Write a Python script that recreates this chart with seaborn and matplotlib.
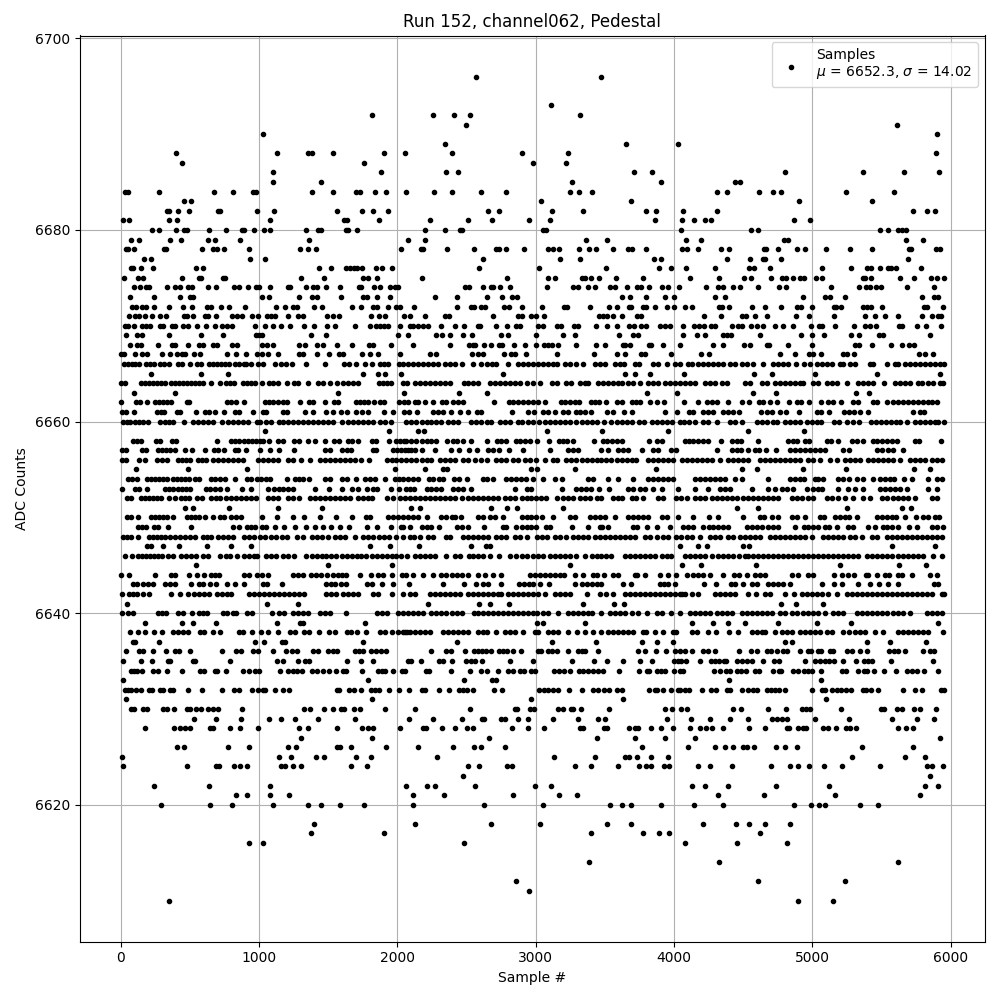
import matplotlib
matplotlib.use("Agg")
import matplotlib.pyplot as plt
import pandas as pd
import seaborn as sns

title = "Run 152, channel062, Pedestal"
x_label = "Sample #"
y_label = "ADC Counts"
legend_label = "Samples\n$\\mu$ = 6652.3, $\\sigma$ = 14.02"

# Sample numbers, one list per ADC count level.
adc_6696 = [2569, 3473]
adc_6693 = [3111]
adc_6692 = [1817, 2258, 2410, 2525, 3321]
adc_6691 = [2497, 5613]
adc_6690 = [1029, 5902]
adc_6689 = [2345, 3653, 4029]
adc_6688 = [400, 1130, 1354, 1383, 1535, 1904, 2056, 2395, 2901, 3234, 5895]
adc_6687 = [443, 1759, 2981, 3220]
adc_6686 = [1101, 1882, 2352, 2439, 3711, 3841, 4804, 5367, 5664, 5917]
adc_6685 = [1101, 1448, 3263, 3906, 4442, 4478]
adc_6684 = [29, 53, 277, 675, 812, 957, 974, 1383, 1535, 1701, 1730, 1839, 1918, 2063, 2265, 2395, 2605, 2786, 3248, 3313, 3408, 4312, 4384, 4616, 4717, 4775, 5245, 5592]
adc_6683 = [458, 508, 3039, 3690, 4905, 5433]
adc_6682 = [335, 350, 414, 494, 704, 720, 986, 1109, 1564, 1745, 1824, 1933, 2656, 2735, 3118, 3342, 3798, 3870, 4066, 4312, 5729, 5830, 5888]
adc_6681 = [17, 60, 350, 407, 1080, 1615, 1636, 1868, 2236, 2511, 2685, 2952, 3104, 3863, 4059, 4146, 4225, 4269, 4869, 4984]
adc_6680 = [227, 277, 400, 458, 480, 639, 762, 877, 892, 964, 1036, 1080, 1340, 1427, 1448, 1629, 1644, 1708, 2200, 2345, 2453, 2468, 3053, 3075, 4051, 4558, 4608, 5490, 5548, 5621, 5650, 5678]
adc_6679 = [75, 133, 357, 436, 631, 682, 863, 1362, 2077, 2200, 3364, 3516, 4088, 4196, 4796, 4825, 5678, 5801]
adc_6678 = [38, 53, 96, 313, 328, 588, 668, 696, 747, 928, 1297, 1354, 1412, 2027, 2171, 2186, 2359, 2554, 2713, 2735, 2786, 2916, 3089, 3126, 3169, 3313, 3386, 3436, 3559, 3668, 3697, 3798, 4059, 4095, 4175, 4341, 4399, 4652, 4666, 4753, 4890, 4948, 5100, 5274, 5433, 5700, 5710, 5895, 5924]
adc_6677 = [169, 219, 935, 1044, 2620, 3176, 3321, 3856, 3906, 4384, 4550, 4645, 4659, 4775, 5693]
adc_6676 = [75, 89, 147, 234, 545, 595, 1434, 1521, 1629, 1660, 1687, 1709, 1745, 1846, 1889, 1962, 2591, 3024, 3509, 3892, 3979, 4088, 4297, 4543, 4579, 4695, 5071, 5281, 5396, 5425, 5490, 5548, 5565, 5606, 5787]
adc_6675 = [24, 125, 161, 443, 566, 581, 740, 754, 1304, 1470, 1752, 1788, 1853, 2178, 2793, 3089, 3140, 3335, 3357, 3400, 3458, 3581, 3776, 4117, 4326, 4507, 4558, 4702, 4782, 4811, 4861, 4912, 4941, 5028, 5071, 5367, 5382, 5425, 5635, 5736, 5859, 5902, 5950]
adc_6674 = [96, 140, 183, 205, 335, 393, 429, 487, 516, 631, 689, 819, 855, 921, 978, 1000, 1080, 1210, 1224, 1340, 1390, 1419, 1485, 1586, 1723, 1738, 1832, 1875, 1947, 1983, 2005, 2489, 2518, 2620, 2677, 2692, 2742, 2815, 3082, 3270, 3306, 3379, 3429, 3538, 3574, 3661, 3733, 3762, 3820, 3914, 3957, 4036, 4232, 4319, 4355, 4428, 4478, 4608, 4760, 4811, 5136, 5339, 5389, 5418, 5461, 5498, 5686, 5881]
adc_6673 = [67, 241, 429, 501, 523, 1022, 1072, 1289, 1383, 1419, 1593, 1752, 1781, 1853, 1947, 2272, 2431, 2648, 2757, 2829, 2865, 3624, 3682, 3798, 3935, 4000, 4297, 4370, 4934, 5093, 5129, 5237, 5794, 5881, 5910]
adc_6672 = [82, 111, 154, 183, 241, 350, 451, 516, 624, 653, 725, 783, 899, 1123, 1188, 1246, 1275, 1398, 1456, 1673, 1738, 1824, 1853, 1933, 1990, 2019, 2121, 2431, 2533, 2554, 2605, 2634, 2771, 2808, 2901, 3046, 3205, 3227, 3393, 3530, 3588, 3675, 3690, 3776, 3798, 3863, 3950, 4000, 4081, 4131, 4326, 4348, 4399, 4565, 4659, 4775, 4890, 4919, 4999, 5158, 5172, 5208, 5367, 5396, 5425, 5505, 5809, 5830, 5946]
adc_6671 = [60, 103, 133, 176, 226, 284, 328, 458, 480, 523, 610, 631, 689, 805, 841, 877, 949, 992, 1058, 1087, 1116, 1210, 1282, 1318, 1492, 1535, 1579, 1810, 1868, 1911, 2048, 2092, 2200, 2345, 2374, 2692, 2873, 2901, 2967, 3003, 3060, 3458, 3487, 3516, 3559, 3624, 3733, 3762, 4218, 4341, 4493, 4522, 4587, 4673, 4883, 4977, 5158, 5382, 5454, 5526, 5621, 5794, 5866, 5910, 5931]
adc_6670 = [29, 53, 94, 154, 183, 212, 284, 306, 371, 393, 451, 487, 552, 617, 682, 733, 769, 805, 971, 1044, 1101, 1159, 1224, 1325, 1398, 1492, 1550, 1694, 1803, 1846, 1875, 1904, 1933, 2019, 2092, 2113, 2150, 2186, 2222, 2316, 2417, 2482, 2583, 2598, 2713, 2793, 2858, 2887, 3017, 3053, 3155, 3183, 3277, 3306, 3436, 3516, 3588, 3675, 3711, 3762, 3798, 3899, 3935, 3971, 4066, 4146, 4182, 4218, 4269, 4297, 4420, 4464, 4493, 4558, 4601, 4645, 4731, 4789, 4861, 4992, 5049, 5071, 5165, 5302, 5382, 5418, 5461, 5628, 5650, 5758, 5823, 5931]
adc_6669 = [39, 118, 154, 350, 581, 740, 978, 1000, 1022, 1376, 1485, 2005, 2077, 2282, 2323, 2379, 2475, 2540, 2750, 2800, 3003, 3198, 3285, 3603, 3704, 3740, 4066, 4167, 4225, 4355, 4384, 4413, 4623, 4919, 4999, 5085, 5281, 5339, 5483, 5512, 5852]
adc_6668 = [67, 118, 147, 270, 371, 393, 484, 566, 595, 668, 696, 805, 841, 1022, 1058, 1101, 1289, 1333, 1419, 1463, 1562, 1673, 1795, 1824, 1954, 2113, 2381, 2518, 2547, 2562, 2627, 2677, 2735, 2757, 2844, 2923, 3003, 3060, 3089, 3118, 3162, 3292, 3436, 3502, 3632, 3646, 3682, 3820, 3834, 3921, 4044, 4283, 4355, 4507, 4550, 4673, 4688, 4825, 5000, 5310, 5339, 5433, 5570, 5650, 5700, 5736]
adc_6667 = [0, 24, 104, 154, 190, 299, 357, 407, 443, 465, 530, 574, 769, 834, 906, 986, 1022, 1065, 1138, 1289, 1318, 1419, 1506, 1579, 1608, 1745, 1803, 1860, 2019, 2236, 2280, 2540, 2583, 2620, 2771, 2822, 2851, 2930, 3155, 3422, 3588, 3646, 3762, 3791, 3979, 4196, 4254, 4767, 4876, 4977, 5006, 5064, 5223, 5252, 5302, 5772, 5816, 5874]
adc_6666 = [24, 53, 82, 104, 133, 183, 212, 241, 284, 313, 350, 414, 443, 501, 552, 581, 639, 668, 696, 725, 754, 783, 829, 858, 887, 906, 943, 993, 1029, 1116, 1159, 1195, 1239, 1342, 1477, 1615, 1651, 1702, 1767, 1817, 1875, 1904, 1933, 2012, 2041, 2077, 2113, 2150, 2186, 2222, 2258, 2294, 2342, 2379, 2415, 2463, 2547, 2607, 2644, 2680, 2716, 2800, 2873, 2909, 2946, 2981, 3017, 3053, 3089, 3126, 3155, 3210, 3246, 3294, 3338, 3427, 3463, 3499, 3571, 3608, 3636, 3716, 3747, 3849, 3885, 3945, 4005, 4042, 4102, 4126, 4175, 4211, 4247, 4283, 4319, 4355, 4404, 4440, 4488, 4524, 4572, 4645, 4717, 4753, 4789, 4825, 4883, 4941, 4982, 5030, 5066, 5102, 5139, 5199, 5223, 5271, 5307, 5416, 5440, 5536, 5596, 5621, 5669, 5705, 5741, 5777, 5813, 5850, 5886, 5922, 5950]
adc_6665 = [219, 581, 776, 1752, 1860, 1911, 2029, 2764, 3646, 3718, 3827, 4073, 4579, 4710, 5020, 5469, 5924]
adc_6664 = [2, 31, 147, 176, 205, 234, 263, 292, 321, 364, 393, 422, 451, 480, 509, 538, 566, 595, 653, 718, 762, 790, 819, 884, 913, 943, 971, 1022, 1072, 1101, 1138, 1198, 1253, 1282, 1354, 1427, 1463, 1513, 1564, 1608, 1644, 1680, 1716, 1868, 1897, 1926, 1955, 2041, 2070, 2125, 2162, 2198, 2234, 2270, 2306, 2342, 2379, 2480, 2509, 2547, 2583, 2668, 2704, 2740, 2776, 2812, 2848, 2885, 2938, 2981, 3029, 3114, 3150, 3222, 3258, 3318, 3355, 3379, 3451, 3487, 3523, 3559, 3596, 3620, 3668, 3704, 3752, 3812, 3849, 3885, 3933, 3969, 4005, 4042, 4078, 4114, 4150, 4223, 4259, 4295, 4343, 4379, 4512, 4548, 4632, 4669, 4729, 4765, 4801, 4837, 4873, 4910, 4934, 5006, 5042, 5102, 5139, 5175, 5247, 5331, 5367, 5404, 5440, 5519, 5596, 5633, 5669, 5705, 5765, 5789, 5837, 5874, 5922, 5946]
adc_6663 = [96, 393, 1571, 2048, 2446, 2648, 3805, 4022, 4572, 4739, 5317, 5411]
adc_6662 = [2, 111, 140, 190, 248, 277, 306, 335, 364, 480, 494, 769, 798, 834, 892, 1044, 1072, 1101, 1138, 1174, 1203, 1297, 1362, 1390, 1477, 1542, 1571, 1702, 1730, 1759, 1788, 1832, 1875, 1904, 2012, 2048, 2077, 2125, 2150, 2198, 2258, 2325, 2354, 2403, 2439, 2475, 2699, 2808, 2836, 2873, 2909, 2945, 2981, 3017, 3065, 3179, 3210, 3246, 3282, 3313, 3398, 3427, 3458, 3511, 3584, 3624, 3692, 3728, 3757, 3824, 3877, 3928, 4073, 4175, 4240, 4271, 4307, 4391, 4493, 4543, 4616, 4645, 4695, 4746, 4832, 4890, 4919, 4977, 5064, 5114, 5151, 5208, 5295, 5331, 5440, 5469, 5541, 5584, 5621, 5657, 5693, 5729, 5765, 5801, 5837, 5862, 5902]
adc_6661 = [10, 39, 96, 263, 292, 313, 407, 429, 545, 610, 639, 682, 747, 827, 855, 957, 1029, 1053, 1174, 1203, 1333, 1390, 1487, 1535, 1593, 1632, 1702, 1745, 1788, 1904, 1969, 2048, 2084, 2142, 2258, 2294, 2330, 2388, 2453, 2509, 2576, 2605, 2829, 2945, 2988, 3053, 3089, 3138, 3198, 3234, 3289, 3323, 3357, 3400, 3516, 3559, 3639, 3697, 3935, 4022, 4109, 4138, 4211, 4247, 4283, 4355, 4391, 4428, 4471, 4630, 4669, 4705, 4765, 4808, 4905, 5035, 5064, 5122, 5230, 5266, 5302, 5346, 5404, 5729, 5777, 5809]
adc_6660 = [17, 46, 70, 104, 133, 161, 198, 282, 318, 350, 378, 458, 523, 559, 595, 631, 668, 733, 776, 812, 848, 884, 920, 981, 1005, 1053, 1089, 1145, 1174, 1210, 1246, 1282, 1318, 1354, 1390, 1427, 1463, 1499, 1535, 1600, 1644, 1680, 1716, 1752, 1788, 1825, 1873, 1909, 1950, 2065, 2101, 2137, 2174, 2210, 2246, 2282, 2318, 2366, 2403, 2439, 2535, 2571, 2607, 2644, 2673, 2740, 2776, 2812, 2873, 2897, 2945, 2981, 3024, 3065, 3101, 3138, 3174, 3210, 3246, 3294, 3331, 3367, 3403, 3439, 3492, 3547, 3584, 3620, 3656, 3697, 3747, 3783, 3841, 3877, 3914, 3950, 3986, 4042, 4070, 4109, 4150, 4211, 4247, 4312, 4404, 4440, 4488, 4596, 4632, 4669, 4717, 4746, 4801, 4837, 4873, 4910, 4958, 4994, 5035, 5059, 5158, 5194, 5247, 5290, 5339, 5421, 5457, 5493, 5529, 5565, 5601, 5633, 5686, 5741, 5777, 5813, 5850, 5886, 5910, 5950]
adc_6659 = [1044, 1940, 2150, 2191, 3082, 3480, 3957, 4536, 4941]
adc_6658 = [89, 118, 147, 255, 284, 371, 400, 696, 800, 829, 858, 887, 916, 945, 974, 1003, 1031, 1072, 1138, 1174, 1253, 1289, 1354, 1405, 1477, 1542, 1579, 1644, 1673, 1716, 1817, 1846, 1940, 1988, 2017, 2046, 2065, 2101, 2137, 2174, 2210, 2246, 2282, 2359, 2398, 2431, 2475, 2533, 2646, 2721, 2752, 2783, 2860, 2889, 2921, 2957, 3010, 3097, 3169, 3198, 3227, 3270, 3422, 3487, 3516, 3552, 3584, 3620, 3820, 3877, 3914, 4078, 4109, 4138, 4175, 4211, 4247, 4341, 4416, 4452, 4483, 4608, 4825, 4857, 4885, 4946, 4977, 5102, 5131, 5186, 5283, 5319, 5367, 5440, 5469, 5505, 5541, 5577, 5609, 5741, 5772, 5931]
adc_6657 = [10, 39, 154, 183, 270, 299, 328, 357, 393, 465, 516, 610, 675, 704, 747, 827, 848, 906, 1007, 1080, 1145, 1253, 1477, 1513, 1600, 1636, 1665, 1824, 1846, 1969, 1998, 2027, 2056, 2077, 2101, 2125, 2178, 2268, 2388, 2446, 2518, 2576, 2656, 2692, 2735, 2808, 2909, 3104, 3234, 3270, 3306, 3473, 3523, 3596, 3632, 3668, 3769, 3849, 3885, 3981, 4017, 4307, 4416, 4452, 4480, 4531, 4584, 4616, 4666, 4734, 4840, 4876, 4912, 4948, 4984, 5020, 5057, 5093, 5223, 5266, 5464, 5500, 5548, 5584, 5657]
adc_6656 = [10, 34, 133, 176, 263, 299, 335, 414, 443, 472, 501, 559, 588, 617, 668, 704, 740, 776, 812, 848, 884, 993, 1029, 1065, 1101, 1138, 1210, 1246, 1301, 1367, 1439, 1475, 1511, 1548, 1583, 1619, 1656, 1692, 1740, 1795, 1921, 1957, 1993, 2029, 2060, 2101, 2137, 2174, 2210, 2246, 2306, 2342, 2379, 2415, 2475, 2511, 2559, 2607, 2648, 2716, 2752, 2788, 2836, 2873, 2921, 2957, 3000, 3070, 3121, 3155, 3222, 3258, 3294, 3331, 3367, 3403, 3439, 3475, 3511, 3547, 3584, 3620, 3656, 3692, 3728, 3812, 3849, 3885, 3921, 3957, 3993, 4054, 4090, 4126, 4162, 4199, 4235, 4271, 4331, 4391, 4428, 4464, 4500, 4536, 4620, 4657, 4693, 4729, 4765, 4801, 4837, 4873, 4910, 4970, 5006, 5054, 5127, 5180, 5235, 5271, 5307, 5343, 5404, 5440, 5476, 5512, 5548, 5584, 5633, 5705, 5741, 5777, 5813, 5862, 5898, 5934]
adc_6655 = [111, 487, 913, 1983, 2200, 2330, 2359, 2967, 3010, 3285, 3870, 4489, 4601, 4934, 5245, 5736, 5852]
adc_6654 = [53, 82, 118, 190, 219, 248, 277, 306, 335, 378, 407, 436, 465, 494, 537, 566, 653, 682, 718, 754, 827, 913, 943, 986, 1014, 1053, 1082, 1203, 1260, 1289, 1318, 1362, 1477, 1513, 1600, 1636, 1702, 1767, 1803, 1839, 1911, 1983, 2012, 2041, 2077, 2113, 2150, 2229, 2258, 2301, 2330, 2410, 2446, 2504, 2620, 2644, 2692, 2783, 2820, 2856, 2892, 2928, 2981, 3053, 3138, 3186, 3379, 3415, 3523, 3596, 3704, 3812, 3849, 3885, 3921, 3957, 3993, 4150, 4187, 4223, 4259, 4295, 4331, 4367, 4440, 4488, 4681, 4837, 4873, 4910, 4938, 5018, 5042, 5078, 5187, 5223, 5266, 5319, 5367, 5435, 5488, 5524, 5560, 5589, 5661, 5717, 5837, 5898, 5934]
adc_6653 = [10, 104, 133, 190, 321, 350, 378, 414, 443, 472, 501, 617, 646, 682, 718, 769, 877, 943, 1065, 1109, 1145, 1174, 1210, 1246, 1405, 1506, 1600, 1673, 1716, 1781, 1825, 1853, 1955, 2012, 2065, 2089, 2118, 2215, 2246, 2282, 2318, 2403, 2439, 2475, 2533, 2851, 2933, 2969, 3191, 3289, 3326, 3362, 3398, 3456, 3530, 3668, 3704, 3757, 3793, 3849, 3909, 4029, 4150, 4247, 4331, 4367, 4404, 4565, 4681, 4729, 4777, 4813, 4861, 4963, 5006, 5042, 5066, 5187, 5259, 5307, 5367, 5488, 5524, 5560, 5596, 5633, 5681, 5837, 5898]
adc_6652 = [46, 75, 147, 176, 205, 234, 263, 292, 350, 393, 436, 465, 494, 552, 588, 653, 689, 718, 762, 798, 834, 870, 906, 943, 978, 1065, 1101, 1138, 1210, 1246, 1289, 1367, 1403, 1439, 1475, 1511, 1548, 1583, 1619, 1656, 1716, 1752, 1788, 1817, 1926, 1969, 2017, 2053, 2089, 2125, 2162, 2198, 2234, 2270, 2306, 2342, 2379, 2415, 2463, 2511, 2547, 2583, 2620, 2656, 2692, 2728, 2776, 2812, 2848, 2897, 2933, 2969, 3005, 3041, 3077, 3150, 3198, 3234, 3270, 3318, 3355, 3391, 3439, 3475, 3559, 3596, 3620, 3692, 3728, 3776, 3885, 3921, 4017, 4053, 4090, 4150, 4187, 4223, 4271, 4307, 4343, 4379, 4416, 4452, 4500, 4536, 4572, 4608, 4640, 4681, 4717, 4753, 4849, 4885, 4921, 4970, 5006, 5102, 5139, 5187, 5235, 5295, 5367, 5416, 5500, 5536, 5584, 5621, 5657, 5693, 5741, 5862, 5898]
adc_6651 = [465, 523, 783, 1138, 1456, 2099, 2164, 2677, 2793, 2865, 3198, 4457, 4608, 5252, 5650, 5715]
adc_6650 = [46, 75, 125, 219, 248, 277, 306, 335, 378, 480, 509, 537, 566, 610, 668, 718, 747, 798, 834, 870, 1022, 1130, 1246, 1325, 1441, 1559, 1673, 1774, 1798, 1933, 1969, 2005, 2041, 2077, 2113, 2150, 2210, 2318, 2354, 2391, 2415, 2458, 2583, 2620, 2668, 2704, 2764, 2897, 2933, 2969, 3005, 3048, 3126, 3246, 3287, 3391, 3427, 3463, 3499, 3572, 3668, 3704, 3740, 3776, 3812, 3909, 3945, 4029, 4138, 4254, 4319, 4500, 4620, 4649, 4705, 4753, 4849, 4890, 4946, 5054, 5083, 5165, 5199, 5235, 5264, 5319, 5464, 5500, 5536, 5572, 5604, 5669, 5746, 5801, 5837, 5886, 5917]
adc_6649 = [125, 154, 183, 241, 270, 342, 511, 812, 855, 913, 943, 971, 1022, 1051, 1116, 1181, 1260, 1340, 1405, 1463, 1521, 1586, 1651, 1783, 1853, 1955, 2029, 2041, 2089, 2174, 2210, 2246, 2301, 2427, 2463, 2511, 2624, 2764, 2788, 2860, 2897, 2933, 2969, 3005, 3077, 3106, 3263, 3379, 3463, 3480, 3523, 3704, 3733, 3805, 3873, 3969, 4066, 4102, 4138, 4211, 4254, 4283, 4319, 4355, 4391, 4524, 4560, 4596, 4632, 4681, 4717, 4748, 4873, 4941, 4970, 5006, 5042, 5093, 5119, 5175, 5259, 5295, 5404, 5452, 5512, 5541, 5577, 5621, 5700, 5753, 5866, 5898, 5941]
adc_6648 = [17, 46, 75, 125, 205, 234, 263, 292, 321, 357, 393, 429, 465, 501, 537, 595, 624, 653, 704, 740, 776, 812, 892, 928, 964, 1005, 1041, 1089, 1125, 1162, 1198, 1275, 1318, 1379, 1415, 1451, 1499, 1548, 1583, 1619, 1692, 1752, 1788, 1825, 1868, 1904, 1940, 1988, 2041, 2089, 2118, 2162, 2222, 2258, 2354, 2383, 2475, 2511, 2547, 2583, 2620, 2656, 2716, 2752, 2788, 2848, 2885, 2933, 3010, 3046, 3082, 3138, 3174, 3215, 3270, 3306, 3343, 3379, 3427, 3463, 3499, 3535, 3572, 3608, 3644, 3680, 3716, 3788, 3825, 3873, 3921, 3957, 4017, 4053, 4090, 4126, 4187, 4259, 4295, 4331, 4391, 4423, 4476, 4512, 4548, 4584, 4620, 4693, 4729, 4765, 4801, 4837, 4873, 4910, 4946, 4994, 5078, 5114, 5151, 5187, 5223, 5271, 5307, 5355, 5428, 5464, 5536, 5572, 5609, 5645, 5681, 5717, 5753, 5789, 5825, 5862, 5898, 5934]
adc_6647 = [190, 219, 306, 422, 624, 798, 943, 1803, 1947, 2157, 2533, 2641, 2670, 4046, 4175, 4235, 4500, 4543, 5577, 5888]
adc_6646 = [29, 82, 125, 154, 183, 212, 241, 270, 299, 342, 378, 434, 470, 506, 542, 595, 631, 720, 757, 793, 841, 892, 928, 964, 986, 1053, 1089, 1125, 1174, 1210, 1253, 1342, 1379, 1415, 1451, 1487, 1523, 1559, 1596, 1632, 1668, 1704, 1740, 1776, 1813, 1849, 1885, 1921, 1957, 1993, 2022, 2070, 2125, 2162, 2198, 2234, 2270, 2350, 2415, 2451, 2518, 2547, 2583, 2620, 2668, 2735, 2817, 2860, 2897, 2933, 2981, 3017, 3053, 3101, 3138, 3174, 3210, 3246, 3294, 3355, 3403, 3439, 3475, 3506, 3547, 3644, 3680, 3716, 3752, 3788, 3825, 3861, 3909, 3945, 3981, 4078, 4114, 4150, 4187, 4223, 4276, 4319, 4355, 4391, 4428, 4469, 4512, 4536, 4572, 4608, 4645, 4681, 4717, 4753, 4789, 4825, 4861, 4898, 4934, 4970, 5006, 5042, 5078, 5114, 5151, 5187, 5223, 5259, 5295, 5331, 5392, 5428, 5464, 5500, 5541, 5572, 5621, 5657, 5693, 5729, 5765, 5801, 5874, 5934]
adc_6645 = [545, 1499, 1962, 3249, 4054, 4196, 4594, 5201, 5628, 5823]
adc_6644 = [2, 60, 248, 364, 393, 494, 552, 602, 653, 682, 711, 892, 928, 986, 1022, 1065, 1246, 1282, 1318, 1376, 1412, 1448, 1492, 1535, 1571, 1600, 1629, 1730, 1812, 1860, 1897, 1962, 2036, 2065, 2113, 2186, 2258, 2318, 2354, 2391, 2427, 2463, 2511, 2583, 2634, 2692, 2747, 2957, 2993, 3029, 3065, 3101, 3138, 3174, 3203, 3282, 3343, 3415, 3439, 3492, 3559, 3596, 3716, 3733, 3793, 3897, 3957, 4017, 4090, 4138, 4175, 4211, 4259, 4355, 4432, 4471, 4529, 4584, 4620, 4657, 4849, 4898, 4970, 5006, 5155, 5211, 5254, 5302, 5387, 5404, 5464, 5524, 5555, 5621, 5645, 5717, 5850, 5898]
adc_6643 = [89, 118, 161, 198, 234, 321, 357, 393, 511, 566, 595, 646, 689, 769, 827, 892, 1029, 1058, 1166, 1480, 1516, 1552, 1589, 1625, 1781, 1817, 1889, 1969, 2084, 2330, 2482, 2569, 2620, 2656, 2747, 2880, 2916, 2952, 2981, 3034, 3097, 3287, 3335, 3371, 3408, 3444, 3468, 3632, 3685, 3897, 3926, 3957, 4005, 4218, 4305, 4408, 4440, 4500, 4565, 4596, 4681, 4717, 4753, 4789, 4837, 5071, 5158, 5216, 5331, 5418, 5481, 5548, 5621, 5881, 5910]
adc_6642 = [10, 60, 89, 118, 161, 205, 364, 429, 487, 530, 566, 602, 639, 696, 733, 769, 800, 928, 964, 1000, 1036, 1072, 1109, 1145, 1181, 1217, 1253, 1289, 1325, 1487, 1523, 1559, 1608, 1644, 1680, 1716, 1825, 1860, 1964, 2041, 2089, 2125, 2234, 2270, 2306, 2342, 2379, 2415, 2451, 2511, 2547, 2583, 2620, 2656, 2692, 2728, 2752, 2800, 2836, 2873, 2909, 2945, 2981, 3017, 3070, 3138, 3174, 3210, 3246, 3367, 3463, 3511, 3559, 3644, 3680, 3716, 3752, 3788, 3825, 3861, 3897, 3933, 3969, 4005, 4042, 4054, 4078, 4126, 4174, 4295, 4331, 4367, 4404, 4440, 4536, 4592, 4657, 4693, 4804, 4869, 4926, 4963, 4999, 5035, 5071, 5114, 5175, 5247, 5283, 5319, 5355, 5392, 5428, 5464, 5500, 5536, 5572, 5609, 5645, 5681, 5717, 5753, 5789, 5825, 5862, 5934, 5950]
adc_6641 = [46, 1058, 1282, 2222, 2591, 2670, 2808, 3343, 3567, 3639, 4775, 4883, 5078]
adc_6640 = [10, 53, 89, 270, 299, 328, 414, 451, 516, 566, 595, 624, 740, 769, 812, 836, 909, 945, 1094, 1145, 1181, 1246, 1282, 1318, 1354, 1441, 1477, 1513, 1629, 1853, 1889, 1925, 2005, 2041, 2077, 2113, 2150, 2186, 2246, 2282, 2318, 2354, 2391, 2427, 2463, 2552, 2583, 2620, 2656, 2692, 2728, 2764, 2800, 2836, 2873, 2909, 2945, 2981, 3010, 3053, 3089, 3162, 3234, 3270, 3306, 3343, 3379, 3408, 3475, 3535, 3572, 3608, 3644, 3692, 3740, 3805, 3873, 3909, 3981, 4042, 4114, 4150, 4187, 4223, 4259, 4307, 4343, 4379, 4416, 4488, 4524, 4560, 4596, 4632, 4669, 4705, 4765, 4801, 4849, 4885, 4934, 4970, 5006, 5042, 5090, 5151, 5187, 5223, 5319, 5355, 5392, 5428, 5464, 5500, 5541, 5584, 5621, 5657, 5705, 5825, 5862, 5898, 5934]
adc_6639 = [176, 443, 523, 689, 1130, 1297, 1318, 1767, 3010, 3053, 3357, 4131, 4283, 4391, 4514, 4753, 5035, 5281, 5910]
adc_6638 = [67, 125, 176, 241, 299, 378, 414, 451, 487, 573, 602, 668, 718, 855, 884, 949, 1015, 1065, 1138, 1224, 1260, 1325, 1362, 1434, 1506, 1550, 1636, 1665, 1709, 1774, 1875, 1911, 1962, 2005, 2041, 2053, 2070, 2089, 2125, 2162, 2198, 2234, 2330, 2366, 2403, 2439, 2475, 2511, 2583, 2620, 2648, 2716, 2779, 2815, 2851, 2904, 2993, 3017, 3089, 3126, 3162, 3234, 3299, 3357, 3415, 3475, 3523, 3559, 3596, 3632, 3668, 3704, 3776, 3800, 3863, 3921, 3993, 4017, 4126, 4162, 4247, 4302, 4399, 4464, 4560, 4596, 4632, 4657, 4729, 4777, 4813, 4849, 4910, 4946, 4982, 5018, 5054, 5102, 5139, 5223, 5266, 5307, 5343, 5380, 5452, 5512, 5621, 5657, 5693, 5729, 5765, 5801, 5837, 5946]
adc_6637 = [89, 104, 277, 971, 1036, 1166, 1188, 1752, 2431, 3118, 3436, 3769, 3877, 3993, 4804, 4855, 5396, 5563, 5823]
adc_6636 = [39, 133, 161, 234, 328, 393, 422, 501, 733, 834, 870, 957, 993, 1101, 1195, 1239, 1275, 1390, 1427, 1499, 1535, 1564, 1694, 1723, 1752, 1810, 1846, 1882, 1918, 2244, 2352, 2388, 2489, 2554, 2583, 2612, 2641, 2677, 2735, 2764, 2793, 2836, 2894, 3017, 3039, 3089, 3118, 3155, 3234, 3306, 3335, 3357, 3451, 3740, 3788, 3870, 3943, 4008, 4044, 4080, 4131, 4211, 4247, 4297, 4471, 4558, 4601, 4673, 4702, 4746, 4789, 4818, 4912, 4970, 4992, 5042, 5064, 5127, 5151, 5252, 5283, 5346, 5396, 5555, 5592, 5621, 5671, 5801, 5852, 5881]
adc_6635 = [17, 147, 227, 342, 357, 523, 537, 790, 1130, 1174, 1282, 1333, 1362, 1636, 1738, 1825, 2077, 2099, 2171, 2301, 2330, 2395, 2497, 2533, 2562, 2612, 2815, 2981, 3263, 3422, 3516, 3632, 3755, 3841, 4000, 4029, 4049, 4087, 4189, 4269, 4297, 4326, 4362, 4377, 4457, 4493, 4529, 4565, 4645, 4724, 4760, 4948, 5020, 5057, 5093, 5122, 5158, 5223, 5317, 5375, 5404, 5433, 5570, 5874]
adc_6634 = [75, 96, 118, 154, 234, 270, 335, 443, 574, 602, 682, 696, 762, 884, 928, 971, 1000, 1152, 1210, 1246, 1275, 1311, 1383, 1419, 1463, 1506, 1557, 1608, 1629, 1745, 1860, 1889, 1911, 1969, 2034, 2051, 2207, 2229, 2388, 2525, 2605, 2648, 2730, 2800, 2836, 2887, 2916, 2967, 2995, 3133, 3169, 3205, 3248, 3313, 3343, 3379, 3415, 3451, 3487, 3603, 3747, 3805, 3820, 3877, 3906, 3935, 4000, 4042, 4066, 4290, 4334, 4377, 4406, 4457, 4485, 4522, 4587, 4616, 4717, 4760, 4775, 4861, 4898, 4941, 4970, 4999, 5064, 5216, 5245, 5331, 5375, 5396, 5447, 5517, 5606, 5686, 5722, 5758, 5809, 5910]
adc_6633 = [17, 1788, 2482, 2684, 2713, 4399, 5064]
adc_6632 = [31, 53, 75, 111, 147, 205, 227, 284, 306, 357, 378, 487, 588, 733, 819, 855, 949, 993, 1029, 1044, 1116, 1174, 1217, 1564, 1579, 1651, 1687, 1738, 1810, 1839, 1868, 1940, 2012, 2084, 2178, 2200, 2301, 2374, 2446, 2475, 2504, 2547, 2699, 2757, 3024, 3060, 3089, 3126, 3162, 3241, 3335, 3415, 3451, 3494, 3530, 3588, 3624, 3820, 3863, 3877, 3921, 3979, 4029, 4042, 4081, 4109, 4203, 4269, 4305, 4384, 4406, 4493, 4536, 4572, 4601, 4673, 4702, 4731, 4760, 4804, 4999, 5071, 5093, 5143, 5180, 5208, 5245, 5281, 5367, 5389, 5425, 5476, 5657, 5743, 5794, 5931, 5950]
adc_6631 = [39, 1817, 2967, 3632, 5100]
adc_6630 = [75, 96, 161, 190, 306, 335, 385, 480, 501, 545, 581, 631, 668, 704, 877, 1325, 1369, 1470, 1535, 1593, 1615, 1687, 1730, 1911, 2128, 2525, 2851, 2865, 2959, 2988, 3162, 3198, 3256, 3270, 3328, 3530, 3935, 3986, 4052, 4095, 4428, 4485, 4681, 4811, 4926, 4955, 4984, 5208, 5498, 5519, 5613, 5650, 5736, 5780, 5895]
adc_6629 = [530, 689, 870, 1072, 1159, 1260, 1427, 1694, 2085, 2258, 2468, 2612, 2627, 2750, 2779, 2873, 2945, 3126, 3306, 3451, 3502, 3950, 4124, 4261, 4406, 4536, 4710, 4746, 4782, 4818, 5020, 5266, 5577, 5758, 5881]
adc_6628 = [176, 386, 429, 465, 501, 646, 668, 790, 863, 993, 1289, 1354, 1564, 1745, 1788, 1825, 2019, 2186, 2207, 2323, 2417, 2504, 2547, 2829, 2945, 3060, 3321, 3343, 3494, 3516, 3675, 3718, 3740, 3834, 3906, 3993, 4117, 4189, 4232, 4276, 4355, 4543, 4659, 4818, 4833, 4898, 4934, 4955, 5078, 5114, 5172, 5245, 5274, 5317, 5621, 5678, 5729]
adc_6627 = [1304, 1817, 2663, 3444, 3718, 3935, 4153, 5924]
adc_6626 = [407, 458, 776, 928, 1210, 1268, 1564, 1586, 1665, 1918, 2150, 2403, 2554, 2605, 2779, 3769, 4102, 4297, 4370, 4428, 4500, 4529, 4579, 4739, 4804, 4890, 5360, 5729]
adc_6625 = [10, 1145, 1231, 1412, 1470, 1701, 1810, 2287, 3133, 3429, 3646, 3675, 3733, 3834, 3957, 5288, 5671, 5816]
adc_6624 = [17, 480, 689, 711, 819, 863, 913, 1159, 1188, 1246, 1304, 1665, 1781, 2511, 2591, 2793, 2829, 3285, 3400, 3596, 3747, 3798, 3834, 3928, 3964, 4175, 4261, 4420, 4702, 4840, 4898, 4977, 5085, 5216, 5490, 5830, 5866, 5946]
adc_6623 = [2475, 5852]
adc_6622 = [241, 639, 1080, 2063, 2215, 2272, 2562, 2995, 3111, 4131, 4225, 4391, 4739, 5122, 5816, 5910]
adc_6621 = [834, 913, 1080, 1217, 2113, 2338, 2836, 3169, 3299, 4319, 4652, 5165, 5780]
adc_6620 = [292, 646, 805, 1101, 1354, 1448, 1586, 1757, 2113, 2627, 3053, 3538, 3624, 3690, 3906, 4146, 4355, 4869, 4992, 5049, 5093, 5346, 5476]
adc_6618 = [1398, 2128, 2677, 3032, 3516, 3690, 4211, 4449, 4543, 4659, 4840]
adc_6617 = [1376, 1904, 3400, 3776, 3892, 3964, 4623]
adc_6616 = [928, 1029, 2482, 4081, 4457, 4818]
adc_6614 = [3386, 4326, 5621]
adc_6612 = [2858, 4608, 5237]
adc_6611 = [2952]
adc_6610 = [349, 4898, 5151]

adc_levels = [6696, 6693, 6692, 6691, 6690, 6689, 6688, 6687, 6686, 6685, 6684, 6683, 6682, 6681, 6680,
              6679, 6678, 6677, 6676, 6675, 6674, 6673, 6672, 6671, 6670, 6669, 6668, 6667, 6666, 6665,
              6664, 6663, 6662, 6661, 6660, 6659, 6658, 6657, 6656, 6655, 6654, 6653, 6652, 6651, 6650,
              6649, 6648, 6647, 6646, 6645, 6644, 6643, 6642, 6641, 6640, 6639, 6638, 6637, 6636, 6635,
              6634, 6633, 6632, 6631, 6630, 6629, 6628, 6627, 6626, 6625, 6624, 6623, 6622, 6621, 6620,
              6618, 6617, 6616, 6614, 6612, 6611, 6610]

rows = []
for level in adc_levels:
    for sample in globals()[f"adc_{level}"]:
        rows.append((sample, level))
df = pd.DataFrame(rows, columns=["sample", "adc"])

fig, ax = plt.subplots(figsize=(10, 10), dpi=100)
sns.scatterplot(data=df, x="sample", y="adc", marker=".", s=36, color="black",
                edgecolor="black", linewidth=1.0, label=legend_label, ax=ax)
ax.set_axisbelow(True)
ax.grid(True)
ax.set_title(title)
ax.set_xlabel(x_label)
ax.set_ylabel(y_label)
ax.legend(loc="upper right")
fig.tight_layout()
pos = ax.get_position()
fig.subplots_adjust(left=pos.x0, right=pos.x1, bottom=pos.y0, top=0.9645)
fig.savefig("out.png", dpi=100)
